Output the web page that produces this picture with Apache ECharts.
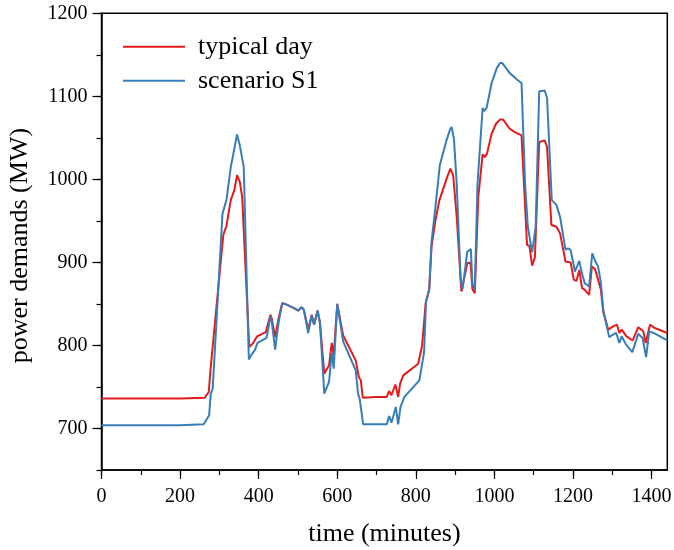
<!DOCTYPE html>
<html>
<head>
<meta charset="utf-8">
<script src="https://cdn.jsdelivr.net/npm/echarts@6/dist/echarts.min.js"></script>
<style>html,body{margin:0;padding:0;background:#fff}#c{width:674px;height:550px}</style>
</head>
<body>
<div id="c"></div>
<script>
const seriesNames = ['typical day', 'scenario S1'];
const typicalTimes = [0,100,200,263,273,278,282,310,318,329,338,345,352,358,376,386,396,418,430,433,442,450,460,467,490,501,509,515,526,535,541,550,556,567,579,586,591,600,615,647,655,660,665,700,726,732,738,748,755,760,768,806,816,825,834,840,850,860,880,888,895,904,916,920,931,939,944,950,959,970,976,981,993,1004,1014,1022,1039,1052,1069,1083,1089,1096,1103,1114,1128,1134,1145,1158,1167,1181,1186,1194,1202,1209,1216,1223,1230,1241,1248,1256,1264,1271,1277,1290,1302,1312,1318,1324,1336,1352,1366,1379,1385,1396,1408,1440];
const typicalDay = [736,736,736,737,744,774,772,933,944,975,987,1005,997,979,798,803,811,816,837,833,810,831,851,850,845,842,846,843,819,837,825,842,827,766,776,803,788,850,812,782,762,758,737,738,738,745,740,753,738,754,764,778,800,851,867,919,951,975,1003,1013,1005,955,865,864,899,900,868,863,979,1030,1027,1031,1055,1067,1072,1072,1061,1057,1053,921,920,896,906,1045,1047,1039,945,943,935,901,899,900,879,878,891,869,867,861,895,892,879,867,840,819,823,825,815,819,811,806,822,817,803,825,821,815];
const s1Times = [0,100,200,260,274,278,283,308,318,329,334,345,352,362,375,382,391,397,420,430,433,442,447,452,460,467,490,501,509,515,526,535,541,550,556,567,579,586,591,600,615,647,653,657,666,700,726,732,738,749,755,761,771,809,821,826,834,840,849,861,878,887,891,897,904,914,919,931,940,944,950,957,970,974,980,993,1006,1014,1020,1039,1058,1069,1078,1085,1090,1096,1105,1114,1128,1134,1146,1158,1167,1181,1187,1194,1205,1209,1216,1222,1230,1241,1249,1257,1264,1271,1277,1292,1302,1310,1318,1324,1335,1351,1366,1377,1386,1394,1405,1440];
const scenarioS1 = [704,704,704,705,716,742,748,959,975,1015,1027,1054,1041,1015,783,789,795,803,809,835,830,795,815,831,851,850,845,842,846,843,815,836,825,842,827,742,756,791,772,850,805,770,742,736,705,705,705,715,707,726,705,726,738,758,792,853,867,925,963,1017,1047,1060,1063,1049,995,879,868,913,916,875,867,995,1086,1082,1086,1116,1134,1140,1140,1128,1120,1116,995,943,943,912,943,1106,1107,1098,975,969,955,915,917,915,889,888,902,888,875,871,911,901,895,875,843,810,813,815,803,811,801,792,814,809,786,817,815,806];
const xMajorTicks = [0,200,400,600,800,1000,1200,1400];
const xMinorTicks = [0,100,200,300,400,500,600,700,800,900,1000,1100,1200,1300,1400];
const yMajorTicks = [700,800,900,1000,1100,1200];
const xTitle = 'time (minutes)';
const yTitle = 'power demands (MW)';

const pair = (ts, vs) => ts.map((t, i) => [t, vs[i]]);
const FONT = '"Liberation Serif", "Times New Roman", serif';
const plain = v => String(v);
const chart = echarts.init(document.getElementById('c'), null, {renderer: 'canvas'});
chart.setOption({
  animation: false,
  backgroundColor: '#fff',
  grid: {left: 101.5, right: 6.7, top: 13.3, bottom: 80, outerBoundsMode: 'none', containLabel: false, show: true, borderColor: '#000', borderWidth: 1.5, backgroundColor: 'transparent'},
  legend: {
    show: true, orient: 'vertical', left: 123, top: 33.7, padding: 0,
    itemWidth: 62, itemHeight: 2, itemGap: 8, icon: 'rect',
    data: seriesNames,
    textStyle: {fontFamily: FONT, fontSize: 26, lineHeight: 26, color: '#000', padding: [0, 0, 0, 8]}
  },
  xAxis: [{
    type: 'value', min: 0, max: 1440,
    axisLine: {show: true, onZero: false, lineStyle: {color: '#000', width: 1.5}},
    axisTick: {show: true, customValues: xMajorTicks, length: 9, lineStyle: {color: '#000', width: 1.2}},
    axisLabel: {customValues: xMajorTicks, formatter: plain, margin: 17, fontFamily: FONT, fontSize: 20, color: '#000'},
    splitLine: {show: false},
    name: xTitle, nameLocation: 'middle', nameGap: 51,
    nameTextStyle: {fontFamily: FONT, fontSize: 26, color: '#000'}
  }, {
    type: 'value', min: 0, max: 1440, position: 'bottom',
    axisLine: {show: false},
    axisTick: {show: true, customValues: xMinorTicks, length: 5, lineStyle: {color: '#000', width: 1.2}},
    axisLabel: {show: false}, splitLine: {show: false}
  }],
  yAxis: [{
    type: 'value', min: 650, max: 1200,
    axisLine: {show: true, onZero: false, lineStyle: {color: '#000', width: 1.5}},
    axisTick: {show: true, customValues: yMajorTicks, length: 9, lineStyle: {color: '#000', width: 1.2}},
    axisLabel: {customValues: yMajorTicks, formatter: plain, margin: 14, fontFamily: FONT, fontSize: 20, color: '#000'},
    splitLine: {show: false},
    name: yTitle, nameLocation: 'middle', nameGap: 68, nameRotate: 90,
    nameTextStyle: {fontFamily: FONT, fontSize: 26, color: '#000', padding: [0, 8, 0, 0]}
  }, {
    type: 'value', min: 650, max: 1200, interval: 50, position: 'left',
    axisLine: {show: false},
    axisTick: {show: true, length: 5, lineStyle: {color: '#000', width: 1.2}},
    axisLabel: {show: false}, splitLine: {show: false}
  }],
  series: [{
    name: seriesNames[0], type: 'line', data: pair(typicalTimes, typicalDay),
    showSymbol: false, symbol: 'none', lineStyle: {color: '#e41a1c', width: 2}, itemStyle: {color: '#e41a1c'}
  }, {
    name: seriesNames[1], type: 'line', data: pair(s1Times, scenarioS1),
    showSymbol: false, symbol: 'none', lineStyle: {color: '#377eb8', width: 2}, itemStyle: {color: '#377eb8'}
  }]
});
</script>
</body>
</html>
